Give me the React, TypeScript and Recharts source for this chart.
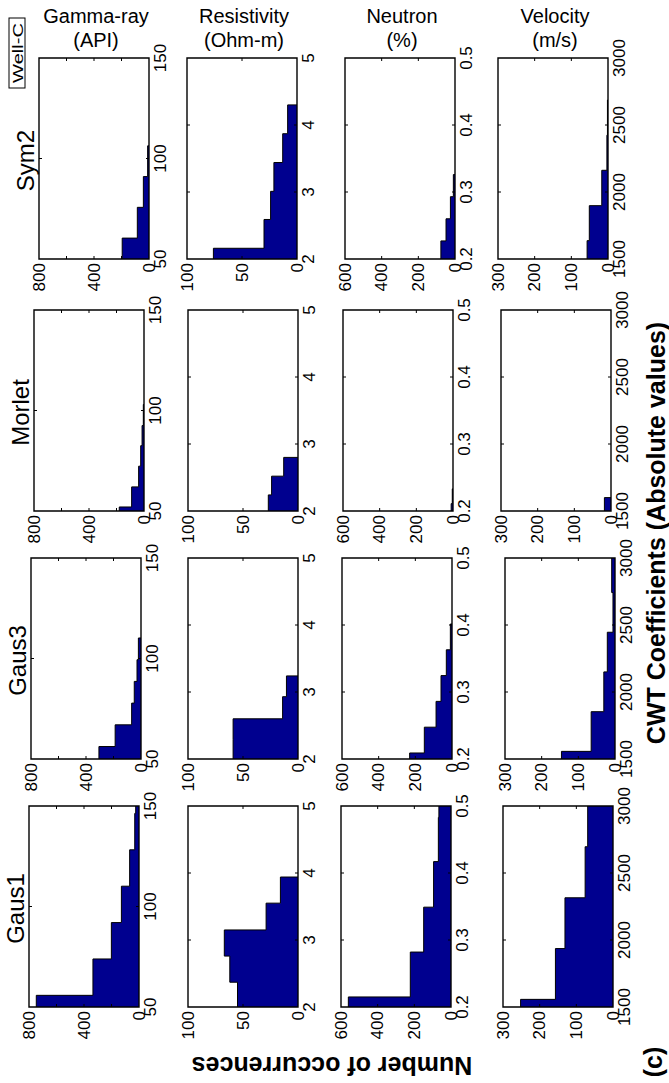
import { Area, ComposedChart, ReferenceArea, XAxis, YAxis } from "recharts";

const wavelets = ["Sym2", "Morlet", "Gaus3", "Gaus1"];
const logNames = ["Gamma-ray", "Resistivity", "Neutron", "Velocity"];
const logUnits = ["(API)", "(Ohm-m)", "(%)", "(m/s)"];

// CWT coefficient axis (vertical) and occurrence axis (horizontal), per log
const valueDomains = [[50, 150], [2, 5], [0.2, 0.5], [1500, 3000]];
const valueTicks = [[50, 100, 150], [2, 3, 4, 5], [0.2, 0.3, 0.4, 0.5], [1500, 2000, 2500, 3000]];
const countMax = [800, 100, 600, 300];
const countTicks = [[0, 200, 400, 600, 800], [0, 50, 100], [0, 200, 400, 600], [0, 100, 200, 300]];
const countLabels = [[0, 400, 800], [0, 50, 100], [0, 200, 400, 600], [0, 100, 200, 300]];

// histogram bin edges and counts: gamma-ray, resistivity, neutron, velocity
const sym2Edges = [
  [45.1, 60.4, 75.7, 91.0, 106.3],
  [1.73, 2.16, 2.59, 3.01, 3.44, 3.87, 4.3],
  [0.194, 0.227, 0.26, 0.293, 0.326],
  [1376, 1637, 1898, 2162, 2424, 2686],
];
const sym2Counts = [
  [195, 85, 41, 10],
  [76, 30, 24, 21, 13, 8.5],
  [77, 49, 25, 9],
  [57, 51, 17, 3, 1.5],
];

const morletEdges = [
  [42, 52, 62, 72.3, 82.5, 92.5, 103],
  [1.96, 2.24, 2.52, 2.8],
  [0.189, 0.211, 0.233],
  [1480, 1600],
];
const morletCounts = [
  [180, 90, 39, 24, 14, 5],
  [27, 24, 13],
  [10, 4],
  [18],
];

const gaus3Edges = [
  [45.4, 56.2, 67, 77.8, 88.6, 99.4, 110.2],
  [1.98, 2.29, 2.6, 2.93, 3.24],
  [0.1705, 0.209, 0.2475, 0.286, 0.3245, 0.363, 0.4015],
  [1261, 1557, 1853, 2150, 2446, 2742, 3038],
];
const gaus3Counts = [
  [306, 188, 68, 49, 29, 19],
  [59, 59, 14, 10.5],
  [231, 151, 87, 60, 31, 9],
  [146, 65, 30.5, 21, 5.5, 9],
];

const gaus1Edges = [
  [37.7, 55.8, 73.9, 92, 110.1, 128.2, 146.3, 164.4],
  [1.98, 2.37, 2.76, 3.15, 3.55, 3.94],
  [0.148, 0.215, 0.282, 0.349, 0.417, 0.483, 0.55],
  [1177, 1557, 1936, 2315, 2696, 3075],
];
const gaus1Counts = [
  [747, 335, 201, 128, 68, 31, 24],
  [55, 62, 67, 29, 16],
  [560, 222, 149, 95, 69, 66],
  [252, 157, 131, 76, 69],
];

const allEdges = [sym2Edges, morletEdges, gaus3Edges, gaus1Edges];
const allCounts = [sym2Counts, morletCounts, gaus3Counts, gaus1Counts];

// layout of the panels on the page
const rowTop = [58, 310, 558, 806];
const colLeft = [
  [39, 187, 345, 498],
  [34, 188, 343, 501],
  [31, 188, 342, 505],
  [29, 188, 341, 503],
];
const PW = 110;
const PH = 201;
const PAD = 20;
const AXR = 40;
const AXB = 44;
const FONT = "'Liberation Sans', Arial, sans-serif";
const BAR = "#00008F";

function Panel({ row, col }: { row: number; col: number }) {
  const edges = allEdges[row][col];
  const counts = allCounts[row][col];
  const [lo, hi] = valueDomains[col];
  const cmax = countMax[col];
  const data = edges.map((edge, i) => ({ edge, count: i < counts.length ? counts[i] : 0 }));

  const top = PAD;
  const bottom = PAD + PH;
  const left = PAD;
  const right = PAD + PW;

  const countTick = (p: any) => {
    const v = p.payload.value;
    const x = p.x;
    return (
      <g>
        {v > 0 && v < cmax && (
          <>
            <line x1={x} x2={x} y1={top} y2={top + 3} stroke="#000" />
            <line x1={x} x2={x} y1={bottom} y2={bottom - 3} stroke="#000" />
          </>
        )}
        {countLabels[col].includes(v) && (
          <text
            x={x}
            y={bottom + 4}
            transform={`rotate(-90 ${x} ${bottom + 4})`}
            textAnchor="end"
            dominantBaseline="central"
            fontSize={17}
            fontFamily={FONT}
            fill="#000"
          >
            {v}
          </text>
        )}
      </g>
    );
  };

  const valueTick = (p: any) => {
    const v = p.payload.value;
    const y = p.y;
    return (
      <g>
        {v > lo && v < hi && (
          <>
            <line x1={left} x2={left + 3} y1={y} y2={y} stroke="#000" />
            <line x1={right} x2={right - 3} y1={y} y2={y} stroke="#000" />
          </>
        )}
        <text
          x={right + 11}
          y={y}
          transform={`rotate(-90 ${right + 11} ${y})`}
          textAnchor="middle"
          dominantBaseline="central"
          fontSize={17}
          fontFamily={FONT}
          fill="#000"
        >
          {v}
        </text>
      </g>
    );
  };

  return (
    <div style={{ position: "absolute", left: colLeft[row][col] - PAD, top: rowTop[row] - PAD }}>
      <ComposedChart
        layout="vertical"
        width={PAD + PW + AXR}
        height={PAD + PH + AXB}
        data={data}
        margin={{ top: PAD, left: PAD, right: 0, bottom: 0 }}
      >
        <XAxis
          type="number"
          domain={[0, cmax]}
          reversed
          allowDataOverflow
          ticks={countTicks[col]}
          interval={0}
          tick={countTick}
          tickLine={false}
          axisLine={false}
          height={AXB}
        />
        <YAxis
          type="number"
          dataKey="edge"
          domain={[lo, hi]}
          orientation="right"
          reversed
          allowDataOverflow
          ticks={valueTicks[col]}
          interval={0}
          tick={valueTick}
          tickLine={false}
          axisLine={false}
          width={AXR}
        />
        <Area
          dataKey="count"
          type="stepBefore"
          fill={BAR}
          fillOpacity={1}
          stroke="#000"
          strokeWidth={1}
          isAnimationActive={false}
          dot={false}
          activeDot={false}
        />
        <ReferenceArea
          x1={0}
          x2={cmax}
          y1={lo}
          y2={hi}
          fill="none"
          stroke="#000"
          strokeWidth={1.4}
          ifOverflow="visible"
        />
      </ComposedChart>
    </div>
  );
}

export default function App() {
  return (
    <div
      style={{
        position: "absolute",
        left: 0,
        top: 0,
        width: 669,
        height: 1083,
        background: "#fff",
        overflow: "hidden",
      }}
    >
      <svg width={669} height={1083} style={{ position: "absolute", left: 0, top: 0 }}>
        {logNames.map((name, c) => {
          const cx = colLeft[0][c] + PW / 2 + 2;
          return (
            <g key={name}>
              <text x={cx} y={23} textAnchor="middle" fontSize={20} fontFamily={FONT}>
                {name}
              </text>
              <text x={cx} y={47} textAnchor="middle" fontSize={20} fontFamily={FONT}>
                {logUnits[c]}
              </text>
            </g>
          );
        })}
        {wavelets.map((w, r) => {
          const x = colLeft[r][0] - 14;
          const y = rowTop[r] + PH / 2 + 2;
          return (
            <text
              key={w}
              x={x}
              y={y}
              transform={`rotate(-90 ${x} ${y})`}
              textAnchor="middle"
              dominantBaseline="central"
              fontSize={24}
              fontFamily={FONT}
            >
              {w}
            </text>
          );
        })}
        <rect x={9} y={18} width={16} height={70} fill="none" stroke="#000" strokeWidth={1} />
        <text
          x={17.5}
          y={53}
          transform="rotate(-90 17.5 53)"
          textAnchor="middle"
          dominantBaseline="central"
          fontSize={15}
          fontFamily={FONT}
          textLength={60}
          lengthAdjust="spacingAndGlyphs"
        >
          Well-C
        </text>
        <text
          x={656}
          y={533}
          transform="rotate(-90 656 533)"
          textAnchor="middle"
          dominantBaseline="central"
          fontSize={25}
          fontWeight="bold"
          fontFamily={FONT}
        >
          CWT Coefficients (Absolute values)
        </text>
        <text
          x={332}
          y={1066}
          transform="rotate(180 332 1066)"
          textAnchor="middle"
          dominantBaseline="central"
          fontSize={25}
          fontWeight="bold"
          fontFamily={FONT}
        >
          Number of occurrences
        </text>
        <text
          x={653}
          y={1062}
          transform="rotate(-90 653 1062)"
          textAnchor="middle"
          dominantBaseline="central"
          fontSize={25}
          fontWeight="bold"
          fontFamily={FONT}
        >
          (c)
        </text>
      </svg>
      {wavelets.map((w, r) => logNames.map((n, c) => <Panel key={w + n} row={r} col={c} />))}
    </div>
  );
}
